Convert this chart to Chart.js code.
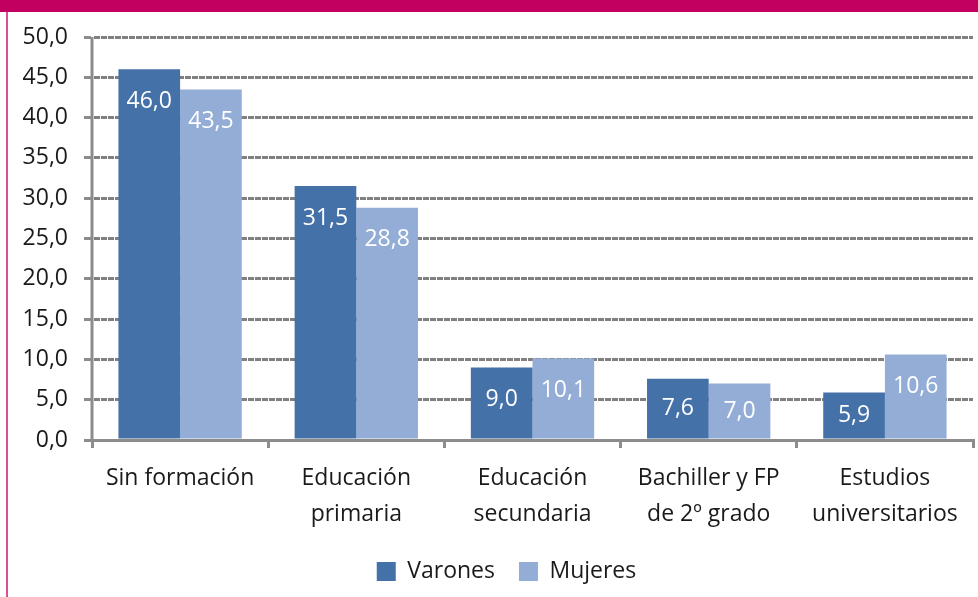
<!DOCTYPE html>
<html lang="es">
<head>
<meta charset="utf-8">
<script src="https://cdn.jsdelivr.net/npm/chart.js@4/dist/chart.umd.min.js"></script>
<style>
  html, body { margin: 0; padding: 0; background: #fff; }
  #wrap { position: relative; width: 978px; height: 597px; overflow: hidden; }
  #topBar { position: absolute; left: 0; top: 0; width: 978px; height: 12px; background: #c2005f; }
  #leftLine { position: absolute; left: 6px; top: 12px; width: 2px; height: 585px; background: #d4509a; }
  canvas { position: absolute; left: 0; top: 0; }
</style>
</head>
<body>
<div id="wrap">
  <canvas id="grafico" width="978" height="597"></canvas>
  <div id="topBar"></div>
  <div id="leftLine"></div>
</div>
<script>
// Datos del gráfico
const categorias = [
  ['Sin formación'],
  ['Educación', 'primaria'],
  ['Educación', 'secundaria'],
  ['Bachiller y FP', 'de 2º grado'],
  ['Estudios', 'universitarios']
];
const varones = [46.0, 31.5, 9.0, 7.6, 5.9];
const mujeres = [43.5, 28.8, 10.1, 7.0, 10.6];
const ticksY = [0, 5, 10, 15, 20, 25, 30, 35, 40, 45, 50];

const FUENTE = "'Open Sans', 'Noto Sans', sans-serif";
const GRIS_EJE = '#8c8c8c';
const formatoComa = (v) => Number(v).toFixed(1).replace('.', ',');

// Etiquetas blancas dentro de cada barra
const etiquetasBarras = {
  id: 'etiquetasBarras',
  afterDatasetsDraw(chart) {
    const ctx = chart.ctx;
    ctx.save();
    ctx.fillStyle = '#ffffff';
    ctx.font = `23px ${FUENTE}`;
    ctx.textAlign = 'center';
    ctx.textBaseline = 'middle';
    chart.data.datasets.forEach((ds, i) => {
      const meta = chart.getDatasetMeta(i);
      meta.data.forEach((bar, j) => {
        const y = Math.min(bar.y + 32, (bar.y + bar.base) / 2);
        ctx.fillText(formatoComa(ds.data[j]), bar.x, y);
      });
    });
    ctx.restore();
  }
};

// Eje vertical continuo y leyenda algo desplazada a la derecha
const ejeYContinuo = {
  id: 'ejeYContinuo',
  afterLayout(chart) {
    if (chart.legend) {
      chart.legend.left += 20;
      chart.legend.right += 20;
    }
  },
  afterDraw(chart) {
    const { ctx, chartArea } = chart;
    ctx.save();
    ctx.setLineDash([]);
    ctx.strokeStyle = GRIS_EJE;
    ctx.lineWidth = 3;
    ctx.beginPath();
    ctx.moveTo(chartArea.left, chartArea.top);
    ctx.lineTo(chartArea.left, chartArea.bottom + 1.5);
    ctx.stroke();
    ctx.restore();
  }
};

const ctx = document.getElementById('grafico');
new Chart(ctx, {
  type: 'bar',
  data: {
    labels: categorias,
    datasets: [
      { label: 'Varones', data: varones, backgroundColor: '#4571a9', borderWidth: 0 },
      { label: 'Mujeres', data: mujeres, backgroundColor: '#93add6', borderWidth: 0 }
    ]
  },
  options: {
    responsive: false,
    animation: false,
    categoryPercentage: 0.70,
    barPercentage: 1.0,
    layout: { padding: { top: 37, left: 0, right: 5, bottom: 4 } },
    plugins: {
      tooltip: { enabled: false },
      legend: {
        position: 'bottom',
        labels: {
          boxWidth: 19,
          boxHeight: 19,
          padding: 24,
          color: '#1a1a1a',
          font: { family: FUENTE, size: 23 }
        }
      }
    },
    scales: {
      x: {
        grid: {
          offset: true,
          drawOnChartArea: false,
          drawTicks: true,
          tickLength: 8,
          color: GRIS_EJE,
          lineWidth: 3
        },
        border: { display: true, color: GRIS_EJE, width: 3 },
        ticks: {
          color: '#1a1a1a',
          padding: 13,
          maxRotation: 0,
          font: { family: FUENTE, size: 23, lineHeight: 1.55 }
        },
        afterFit(scale) { scale.height = 96; }
      },
      y: {
        min: 0,
        max: 50,
        afterBuildTicks(scale) { scale.ticks = ticksY.map(v => ({ value: v })); },
        grid: {
          color: '#808080',
          lineWidth: 3,
          tickLength: 8,
          drawTicks: true,
          tickColor: GRIS_EJE
        },
        border: { display: true, color: 'rgba(0,0,0,0)', width: 3, dash: [6, 1] },
        ticks: {
          color: '#1a1a1a',
          padding: 16,
          font: { family: FUENTE, size: 23 },
          callback: (v) => formatoComa(v)
        },
        afterFit(scale) { scale.width = 92; }
      }
    }
  },
  plugins: [etiquetasBarras, ejeYContinuo]
});
</script>
</body>
</html>
